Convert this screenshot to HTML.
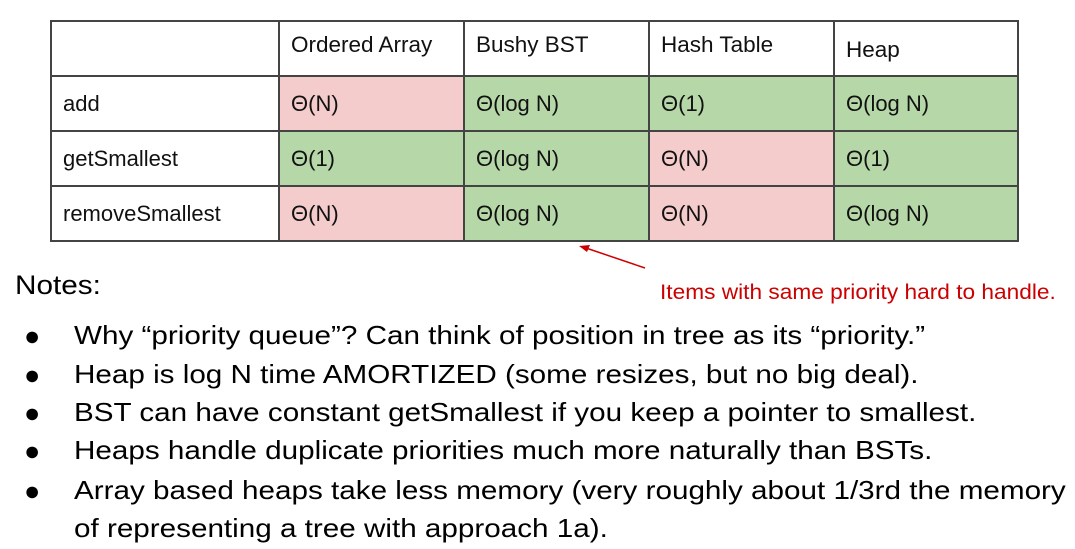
<!DOCTYPE html>
<html><head><style>
body{margin:0;width:1075px;height:549px;background:#fff;position:relative;overflow:hidden;font-family:"Liberation Sans",sans-serif;}
.c{position:absolute;box-sizing:border-box;font-size:22px;color:#111;padding-left:12px;display:flex;align-items:center;}
.h{font-size:22.5px;align-items:flex-start;padding-top:12px}
.r{background:#f4cccc}.g{background:#b6d7a8}
.l{position:absolute;background:#444}
.n{position:absolute;left:74px;font-size:26px;color:#000;white-space:nowrap;transform:scaleX(1.14);transform-origin:0 0;}
.b{position:absolute;left:24px;font-size:27px;}
</style></head><body>
<div class="c" style="left:51px;top:20px;width:228px;height:56px"></div>
<div class="c h" style="left:279px;top:20px;width:185px;height:56px">Ordered Array</div>
<div class="c h" style="left:464px;top:20px;width:185px;height:56px">Bushy BST</div>
<div class="c h" style="left:649px;top:20px;width:185px;height:56px">Hash Table</div>
<div class="c h" style="left:834px;top:20px;width:184px;height:56px;padding-top:17px">Heap</div>

<div class="c" style="left:51px;top:76px;width:228px;height:55px">add</div>
<div class="c r" style="left:279px;top:76px;width:185px;height:55px">Θ(N)</div>
<div class="c g" style="left:464px;top:76px;width:185px;height:55px">Θ(log N)</div>
<div class="c g" style="left:649px;top:76px;width:185px;height:55px">Θ(1)</div>
<div class="c g" style="left:834px;top:76px;width:184px;height:55px">Θ(log N)</div>

<div class="c" style="left:51px;top:131px;width:228px;height:55px">getSmallest</div>
<div class="c g" style="left:279px;top:131px;width:185px;height:55px">Θ(1)</div>
<div class="c g" style="left:464px;top:131px;width:185px;height:55px">Θ(log N)</div>
<div class="c r" style="left:649px;top:131px;width:185px;height:55px">Θ(N)</div>
<div class="c g" style="left:834px;top:131px;width:184px;height:55px">Θ(1)</div>

<div class="c" style="left:51px;top:186px;width:228px;height:55px"><span style="display:inline-block;transform:scaleX(1.0);transform-origin:0 50%">removeSmallest</span></div>
<div class="c r" style="left:279px;top:186px;width:185px;height:55px">Θ(N)</div>
<div class="c g" style="left:464px;top:186px;width:185px;height:55px">Θ(log N)</div>
<div class="c r" style="left:649px;top:186px;width:185px;height:55px">Θ(N)</div>
<div class="c g" style="left:834px;top:186px;width:184px;height:55px">Θ(log N)</div>

<div class="l" style="left:50px;top:20px;width:969px;height:2px"></div>
<div class="l" style="left:50px;top:75px;width:969px;height:2px"></div>
<div class="l" style="left:50px;top:130px;width:969px;height:2px"></div>
<div class="l" style="left:50px;top:185px;width:969px;height:2px"></div>
<div class="l" style="left:50px;top:240px;width:969px;height:2px"></div>
<div class="l" style="left:50px;top:20px;width:2px;height:222px"></div>
<div class="l" style="left:278px;top:20px;width:2px;height:222px"></div>
<div class="l" style="left:463px;top:20px;width:2px;height:222px"></div>
<div class="l" style="left:648px;top:20px;width:2px;height:222px"></div>
<div class="l" style="left:833px;top:20px;width:2px;height:222px"></div>
<div class="l" style="left:1017px;top:20px;width:2px;height:222px"></div>

<svg style="position:absolute;left:0;top:0" width="1075" height="549">
<line x1="645" y1="268" x2="586" y2="248" stroke="#c00" stroke-width="1.5"/>
<polygon points="579,246 590,245 587,252" fill="#c00"/>
</svg>
<div style="position:absolute;left:660px;top:281px;font-size:21px;color:#c00;white-space:nowrap;transform:scaleX(1.08);transform-origin:0 0">Items with same priority hard to handle.</div>
<div style="position:absolute;left:15px;top:270px;font-size:27px;transform:scaleX(1.1);transform-origin:0 0">Notes:</div>

<div class="b" style="top:321px">●</div><div class="n" style="top:320px">Why “priority queue”? Can think of position in tree as its “priority.”</div>
<div class="b" style="top:360px">●</div><div class="n" style="top:359px">Heap is log N time AMORTIZED (some resizes, but no big deal).</div>
<div class="b" style="top:398px">●</div><div class="n" style="top:397px">BST can have constant getSmallest if you keep a pointer to smallest.</div>
<div class="b" style="top:436px">●</div><div class="n" style="top:435px">Heaps handle duplicate priorities much more naturally than BSTs.</div>
<div class="b" style="top:476px">●</div><div class="n" style="top:475px">Array based heaps take less memory (very roughly about 1/3rd the memory</div>
<div class="n" style="top:513px">of representing a tree with approach 1a).</div>
</body></html>
